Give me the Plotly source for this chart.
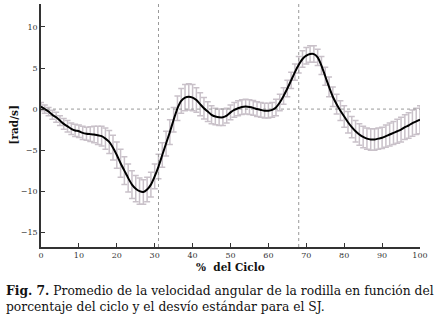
import plotly.graph_objects as go

pct = list(range(0, 101))
mean_vel = [0.3, 0.0, -0.3, -0.7, -1.0, -1.4, -1.8, -2.1, -2.4, -2.6,
            -2.7, -2.9, -3.0, -3.05, -3.1, -3.2, -3.3, -3.6, -4.0, -4.7,
            -5.6, -6.6, -7.5, -8.4, -9.2, -9.7, -10.0, -10.1, -9.8, -9.2,
            -8.2, -7.0, -5.6, -4.2, -2.8, -1.3, 0.1, 1.0, 1.4, 1.5,
            1.4, 1.1, 0.6, 0.1, -0.3, -0.7, -0.9, -1.0, -1.0, -0.8,
            -0.4, -0.1, 0.1, 0.25, 0.3, 0.25, 0.15, 0.0, -0.1, -0.2,
            -0.2, -0.1, 0.2, 0.8, 1.6, 2.5, 3.5, 4.5, 5.4, 6.1,
            6.5, 6.7, 6.7, 6.3, 5.3, 4.0, 2.7, 1.5, 0.6, -0.2,
            -0.9, -1.6, -2.2, -2.7, -3.1, -3.4, -3.6, -3.7, -3.7, -3.6,
            -3.5, -3.3, -3.1, -2.9, -2.7, -2.5, -2.2, -2.0, -1.7, -1.5,
            -1.3]
std_vel = [0.5, 0.5, 0.5, 0.55, 0.6, 0.6, 0.65, 0.7, 0.7, 0.75,
           0.75, 0.8, 0.8, 0.9, 1.0, 1.1, 1.2, 1.3, 1.4, 1.5,
           1.6, 1.7, 1.7, 1.7, 1.7, 1.6, 1.6, 1.5, 1.5, 1.5,
           1.5, 1.5, 1.5, 1.5, 1.5, 1.5, 1.5, 1.5, 1.6, 1.6,
           1.6, 1.5, 1.4, 1.3, 1.2, 1.1, 1.0, 1.0, 1.0, 0.9,
           0.9, 0.9, 0.9, 0.9, 0.9, 0.9, 0.9, 0.9, 0.9, 0.9,
           0.9, 0.9, 1.0, 1.0, 1.0, 1.0, 1.0, 1.0, 1.0, 1.0,
           1.0, 1.0, 1.0, 1.0, 1.1, 1.1, 1.2, 1.2, 1.2, 1.2,
           1.3, 1.3, 1.3, 1.3, 1.3, 1.3, 1.3, 1.3, 1.3, 1.3,
           1.3, 1.35, 1.4, 1.4, 1.45, 1.5, 1.5, 1.55, 1.6, 1.6,
           1.7]
event_lines = [31, 68]
x_ticks = [0, 10, 20, 30, 40, 50, 60, 70, 80, 90, 100]
y_ticks = [-15, -10, -5, 0, 5, 10]
x_range = [0, 100]
y_range = [-16.8, 12.8]

W, H = 437, 319
ML, MR, MT, MB = 41, 17, 4, 72
pw, ph = W - ML - MR, H - MT - MB

def px_x(p):
    return (p - ML) / pw

def px_y(p):
    return (H - MB - p) / ph

serif = "'DejaVu Serif', 'Liberation Serif', serif"

fig = go.Figure()

# standard deviation bars
fig.add_trace(go.Scatter(
    x=pct, y=mean_vel, mode="markers",
    marker=dict(size=0.1, color="rgba(0,0,0,0)"),
    error_y=dict(type="data", array=std_vel, visible=True,
                 color="#c9c1c9", thickness=1.5, width=3),
    showlegend=False, hoverinfo="skip"))

# zero reference line
fig.add_trace(go.Scatter(
    x=x_range, y=[0, 0], mode="lines",
    line=dict(color="#999999", width=1, dash="dot"),
    showlegend=False, hoverinfo="skip"))

# event vertical lines
for ev in event_lines:
    fig.add_trace(go.Scatter(
        x=[ev, ev], y=y_range, mode="lines",
        line=dict(color="#999999", width=1, dash="dot"),
        showlegend=False, hoverinfo="skip"))

# mean curve
fig.add_trace(go.Scatter(
    x=pct, y=mean_vel, mode="lines",
    line=dict(color="black", width=2, shape="spline", smoothing=0.6),
    showlegend=False))

fig.update_xaxes(range=x_range, tickvals=x_ticks, showgrid=False, zeroline=False,
                 showline=True, linecolor="#333333", linewidth=1.5,
                 ticks="inside", ticklen=4, tickcolor="#333333",
                 tickfont=dict(family=serif, size=8, color="#333333"))
fig.update_yaxes(range=y_range, tickvals=y_ticks, showgrid=False, zeroline=False,
                 showline=True, linecolor="#333333", linewidth=1.5,
                 ticks="inside", ticklen=4, tickcolor="#333333",
                 tickfont=dict(family=serif, size=8, color="#333333"))

annotations = [
    dict(text="<b>%  del Ciclo</b>", xref="paper", yref="paper",
         x=0.5, y=px_y(267), xanchor="center", yanchor="middle",
         showarrow=False, font=dict(family=serif, size=10.5, color="#111111")),
    dict(text="<b>[rad/s]</b>", xref="paper", yref="paper", textangle=-90,
         x=px_x(13), y=0.5, xanchor="center", yanchor="middle",
         showarrow=False, font=dict(family=serif, size=10.5, color="#111111")),
    dict(text="<b>Fig. 7.</b> Promedio de la velocidad angular de la rodilla en función del<br>"
              "porcentaje del ciclo y el desvío estándar para el SJ.",
         xref="paper", yref="paper", x=px_x(4), y=px_y(281),
         xanchor="left", yanchor="top", align="left", showarrow=False,
         font=dict(family=serif, size=12.3, color="#111111")),
]

fig.update_layout(
    width=W, height=H,
    margin=dict(l=ML, r=MR, t=MT, b=MB),
    paper_bgcolor="white", plot_bgcolor="white",
    annotations=annotations,
)

fig.write_html("out.html", config={"displayModeBar": False},
               post_script="document.body.style.margin='0';document.body.style.overflow='hidden';")
